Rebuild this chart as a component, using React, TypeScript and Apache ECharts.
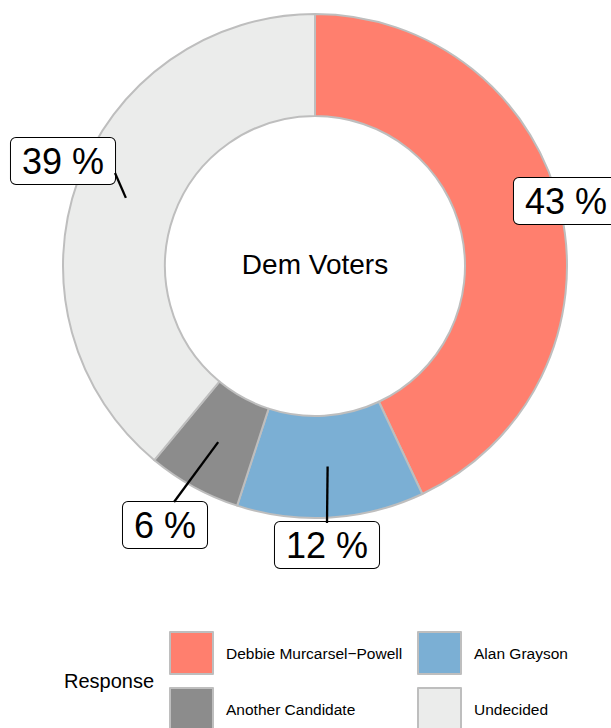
import React, { useEffect, useRef } from "react";
import * as echarts from "echarts";

const categories = ["Debbie Murcarsel\u2212Powell", "Alan Grayson", "Another Candidate", "Undecided"];
const values = [43, 12, 6, 39];
const colors = ["#FF7F6E", "#7BAFD4", "#8C8C8C", "#EBECEB"];
const centerTitle = "Dem Voters";
const legendTitle = "Response";

// layout constants (pixels)
const CX = 315;
const CY = 266;
const R_IN = 150;
const R_OUT = 252;
const labelCenters = [
  [566, 201],
  [327, 545],
  [165, 525],
  [63, 161],
];
const lineEnds = [null, [327, 523], [174, 502], [115, 173]];
const legendPos = [
  [169, 631],
  [417, 631],
  [169, 687],
  [417, 687],
];

export default function App() {
  const ref = useRef<HTMLDivElement>(null);
  useEffect(() => {
    if (!ref.current) return;
    const chart = echarts.init(ref.current, null, { renderer: "svg" });
    const total = values.reduce((a, b) => a + b, 0);
    const mids: number[][] = [];
    let acc = 0;
    values.forEach((v) => {
      const mid = ((acc + v / 2) / total) * Math.PI * 2;
      const rm = (R_IN + R_OUT) / 2;
      mids.push([CX + rm * Math.sin(mid), CY - rm * Math.cos(mid)]);
      acc += v;
    });
    const font = "Liberation Sans, Arial, Helvetica, sans-serif";
    const lines: any[] = [];
    lineEnds.forEach((e, i) => {
      if (!e) return;
      lines.push({
        type: "line",
        z: 50,
        silent: true,
        shape: { x1: mids[i][0], y1: mids[i][1], x2: e[0], y2: e[1] },
        style: { stroke: "#000", lineWidth: 2.3 },
      });
    });
    chart.setOption({
      animation: false,
      backgroundColor: "#ffffff",
      title: [
        {
          text: centerTitle,
          left: CX,
          top: CY - 16,
          padding: 0,
          textAlign: "center",
          textStyle: { fontFamily: font, fontSize: 28, fontWeight: "normal", color: "#000" },
        },
        {
          text: legendTitle,
          left: 64,
          top: 671,
          padding: 0,
          textStyle: { fontFamily: font, fontSize: 20, fontWeight: "normal", color: "#000" },
        },
      ],
      legend: categories.map((c, i) => ({
        data: [c],
        orient: "vertical",
        left: legendPos[i][0],
        top: legendPos[i][1],
        padding: 0,
        itemWidth: 43,
        itemHeight: 42,
        icon: "rect",
        itemStyle: { borderColor: "#BEBEBE", borderWidth: 2 },
        textStyle: { fontFamily: font, fontSize: 15.5, color: "#000", padding: [0, 0, 0, 8] },
      })),
      graphic: lines,
      series: [
        {
          type: "pie",
          center: [CX, CY],
          radius: [R_IN, R_OUT],
          startAngle: 90,
          clockwise: true,
          avoidLabelOverlap: false,
          silent: true,
          z: 2,
          itemStyle: { borderColor: "#BEBEBE", borderWidth: 2 },
          data: categories.map((c, i) => ({
            name: c,
            value: values[i],
            itemStyle: { color: colors[i] },
          })),
          label: {
            show: true,
            position: "outside",
            formatter: "{c} %",
            fontFamily: font,
            fontSize: 36,
            color: "#000",
            backgroundColor: "#ffffff",
            borderColor: "#000",
            borderWidth: 1,
            borderRadius: 5,
            padding: [5, 11, 3, 11],
            lineHeight: 38,
          },
          labelLine: { show: false },
          labelLayout: (params: any) => {
            const c = labelCenters[params.dataIndex];
            return {
              x: c[0],
              y: c[1],
              align: "center",
              verticalAlign: "middle",
            };
          },
        },
      ],
    });
    return () => chart.dispose();
  }, []);
  return (
    <div
      ref={ref}
      style={{ position: "fixed", left: 0, top: 0, width: 611, height: 728 }}
    />
  );
}
